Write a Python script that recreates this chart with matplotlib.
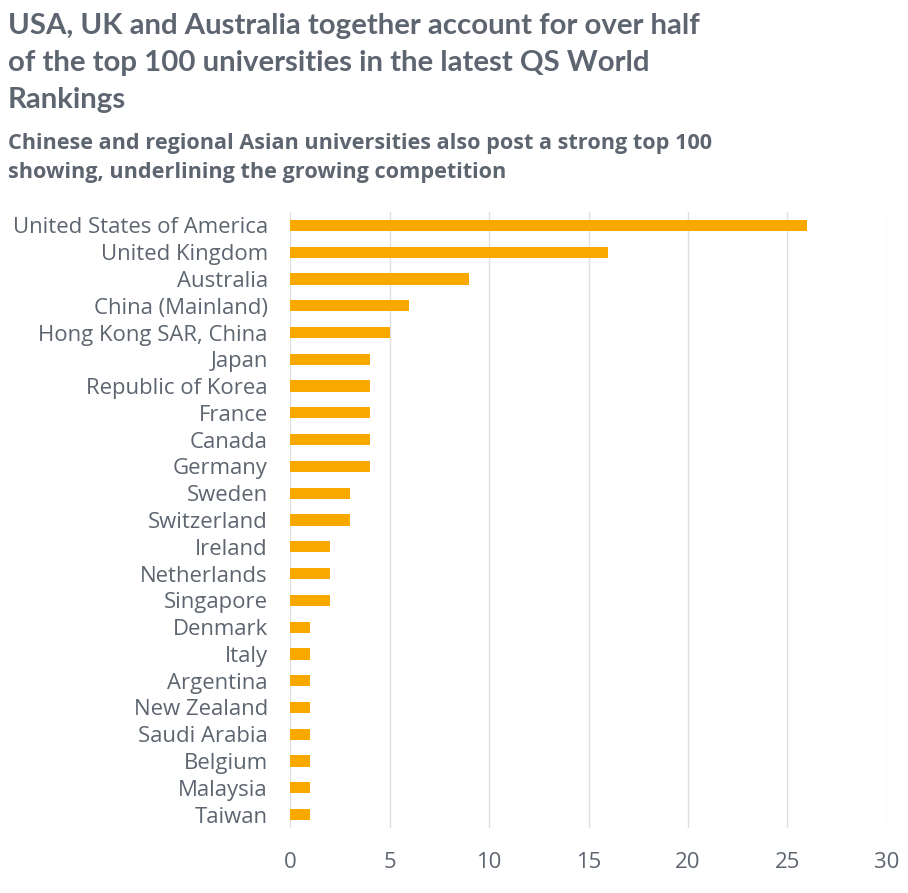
import matplotlib
matplotlib.use("Agg")
import matplotlib.pyplot as plt

countries = ["United States of America", "United Kingdom", "Australia", "China (Mainland)",
             "Hong Kong SAR, China", "Japan", "Republic of Korea", "France", "Canada", "Germany",
             "Sweden", "Switzerland", "Ireland", "Netherlands", "Singapore", "Denmark", "Italy",
             "Argentina", "New Zealand", "Saudi Arabia", "Belgium", "Malaysia", "Taiwan"]
counts = [26, 16, 9, 6, 5, 4, 4, 4, 4, 4, 3, 3, 2, 2, 2, 1, 1, 1, 1, 1, 1, 1, 1]
xticks = [0, 5, 10, 15, 20, 25, 30]

title = "USA, UK and Australia together account for over half\nof the top 100 universities in the latest QS World\nRankings"
subtitle = "Chinese and regional Asian universities also post a strong top 100\nshowing, underlining the growing competition"

TEXT = "#5d6570"
BAR = "#f9a800"
GRID = "#e0e0e0"

fig = plt.figure(figsize=(9.08, 8.93), dpi=100)
ax = fig.add_axes([290/908, 1-828/893, (887-290)/908, (828-212)/893])

ypos = list(range(len(countries)))
ax.barh(ypos, counts, height=0.42, color=BAR, zorder=3)
ax.set_ylim(len(countries)-0.5, -0.5)
ax.set_xlim(0, 30)
ax.set_xticks(xticks)
ax.set_yticks(ypos)
ax.set_yticklabels(countries, fontfamily="Open Sans", fontsize=15.9, color=TEXT)
ax.set_xticklabels([str(t) for t in xticks], fontfamily="Open Sans", fontsize=15.9, color=TEXT)
ax.tick_params(axis="both", length=0)
ax.tick_params(axis="x", pad=17)
ax.tick_params(axis="y", pad=16)
ax.grid(axis="x", color=GRID, linewidth=1, zorder=0)
for s in ax.spines.values():
    s.set_visible(False)

fig.text(8/908, 1-13/893, title, fontfamily="Lato", fontweight="bold", fontsize=21.2,
         color=TEXT, va="top", ha="left", linespacing=1.52)
fig.text(8/908, 1-133/893, subtitle, fontfamily="Open Sans", fontweight="bold", fontsize=15.6,
         color=TEXT, va="top", ha="left", linespacing=1.5)

fig.savefig("out.png", dpi=100)
